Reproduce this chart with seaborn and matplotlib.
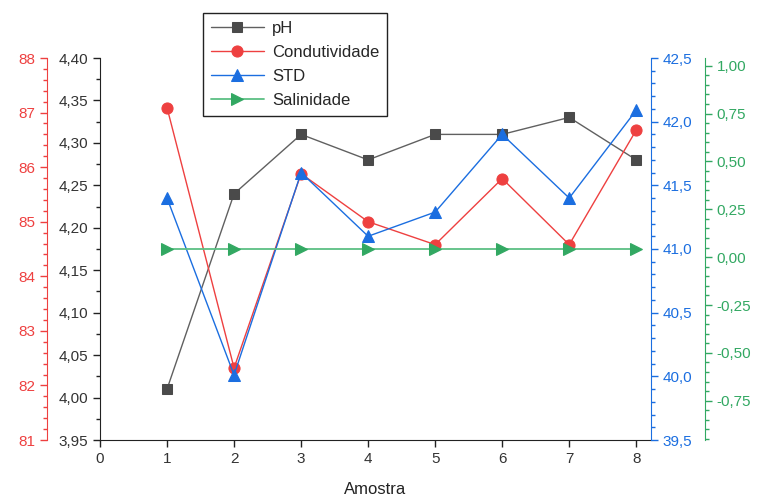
import numpy as np
import pandas as pd
import matplotlib
matplotlib.use("Agg")
import matplotlib.pyplot as plt
import seaborn as sns
from matplotlib.ticker import MultipleLocator, FuncFormatter, AutoMinorLocator

# valores
amostra = [1, 2, 3, 4, 5, 6, 7, 8]
ph = [4.01, 4.24, 4.31, 4.28, 4.31, 4.31, 4.33, 4.28]
condutividade = [87.09, 82.32, 85.88, 85.00, 84.58, 85.79, 84.58, 86.68]
std = [41.40, 40.01, 41.60, 41.10, 41.29, 41.90, 41.40, 42.09]
salinidade = [0.04, 0.04, 0.04, 0.04, 0.04, 0.04, 0.04, 0.04]

df = pd.DataFrame({'Amostra': amostra, 'pH': ph, 'Condutividade': condutividade,
                   'STD': std, 'Salinidade': salinidade})

sns.set_style("ticks")
plt.rcParams['font.family'] = ['Liberation Sans', 'DejaVu Sans']

c_ph = '#4a4a4a'
c_red = '#ee4040'
c_blue = '#1b6ee0'
c_green = '#32a862'

fig = plt.figure(figsize=(7.61, 4.97), dpi=100)
ax = fig.add_axes([100 / 761, 1 - 440 / 497, 551 / 761, 382 / 497])
ax_r = ax.twinx()
ax_b = ax.twinx()
ax_g = ax.twinx()

# pH
sns.lineplot(x='Amostra', y='pH', data=df, ax=ax, color='#606060', linewidth=1,
             marker='s', markersize=7, markerfacecolor=c_ph, markeredgecolor=c_ph, legend=False)
# Condutividade
sns.lineplot(x='Amostra', y='Condutividade', data=df, ax=ax_r, color=c_red, linewidth=1,
             marker='o', markersize=8, markerfacecolor=c_red, markeredgecolor=c_red, legend=False)
# STD
sns.lineplot(x='Amostra', y='STD', data=df, ax=ax_b, color=c_blue, linewidth=1,
             marker='^', markersize=8, markerfacecolor=c_blue, markeredgecolor=c_blue, legend=False)
# Salinidade
sns.lineplot(x='Amostra', y='Salinidade', data=df, ax=ax_g, color='#5cbf84', linewidth=1.3,
             marker='>', markersize=8, markerfacecolor=c_green, markeredgecolor=c_green, legend=False)

ax.set_xlim(0, 8.22)
ax.set_ylim(3.95, 4.40)
ax_r.set_ylim(81, 88)
ax_b.set_ylim(39.5, 42.5)
ax_g.set_ylim(-0.955, 1.04)

def virgula(fmt):
    return FuncFormatter(lambda v, p: fmt.format(v).replace('.', ','))

ax.xaxis.set_major_locator(MultipleLocator(1))
ax.yaxis.set_major_locator(MultipleLocator(0.05))
ax.yaxis.set_minor_locator(AutoMinorLocator(2))
ax.yaxis.set_major_formatter(virgula('{:.2f}'))
ax_r.yaxis.set_major_locator(MultipleLocator(1))
ax_r.yaxis.set_minor_locator(AutoMinorLocator(5))
ax_r.yaxis.set_major_formatter(virgula('{:.0f}'))
ax_b.yaxis.set_major_locator(MultipleLocator(0.5))
ax_b.yaxis.set_minor_locator(AutoMinorLocator(5))
ax_b.yaxis.set_major_formatter(virgula('{:.1f}'))
ax_g.set_yticks([-0.75, -0.5, -0.25, 0, 0.25, 0.5, 0.75, 1.0])
ax_g.yaxis.set_minor_locator(MultipleLocator(0.05))
ax_g.yaxis.set_major_formatter(virgula('{:.2f}'))

# eixos
for a in [ax, ax_r, ax_b, ax_g]:
    for s in a.spines.values():
        s.set_visible(False)
    a.set_ylabel('')
    a.set_xlabel('')

ax.spines['left'].set_visible(True)
ax.spines['bottom'].set_visible(True)
ax.spines['left'].set_color('#222222')
ax.spines['bottom'].set_color('#222222')

ax_r.spines['left'].set_visible(True)
ax_r.spines['left'].set_position(('axes', -53 / 551))
ax_r.spines['left'].set_color(c_red)
ax_r.yaxis.set_ticks_position('left')
ax_r.yaxis.set_label_position('left')

ax_b.spines['right'].set_visible(True)
ax_b.spines['right'].set_color(c_blue)

ax_g.spines['right'].set_visible(True)
ax_g.spines['right'].set_position(('axes', 1 + 54 / 551))
ax_g.spines['right'].set_color(c_green)

ax.tick_params(axis='both', which='major', length=5, width=1, color='#222222',
               labelsize=11, labelcolor='#333333')
ax.tick_params(axis='y', which='minor', length=3, width=1, color='#222222')
ax_r.tick_params(axis='y', which='major', length=5, width=1, color=c_red, labelcolor=c_red, labelsize=11)
ax_r.tick_params(axis='y', which='minor', length=3, width=1, color=c_red)
ax_b.tick_params(axis='y', which='major', length=5, width=1, color=c_blue, labelcolor=c_blue, labelsize=11)
ax_b.tick_params(axis='y', which='minor', length=3, width=1, color=c_blue)
ax_g.tick_params(axis='y', which='major', length=5, width=1, color=c_green, labelcolor=c_green, labelsize=11)
ax_g.tick_params(axis='y', which='minor', length=3, width=1, color=c_green)

ax.set_xlabel('Amostra', fontsize=12, color='#222222', labelpad=12)

# legenda
handles = [ax.get_lines()[0], ax_r.get_lines()[0], ax_b.get_lines()[0], ax_g.get_lines()[0]]
labels = ['pH', 'Condutividade', 'STD', 'Salinidade']
leg = fig.legend(handles, labels, loc='upper left', bbox_to_anchor=(203 / 761, 1 - 13 / 497),
                 frameon=True, fancybox=False, framealpha=1, edgecolor='#222222',
                 fontsize=12, handlelength=3.2, labelspacing=0.55, borderpad=0.45,
                 handletextpad=0.5, borderaxespad=0)
leg.get_frame().set_linewidth(1)

plt.savefig('out.png', dpi=100)
